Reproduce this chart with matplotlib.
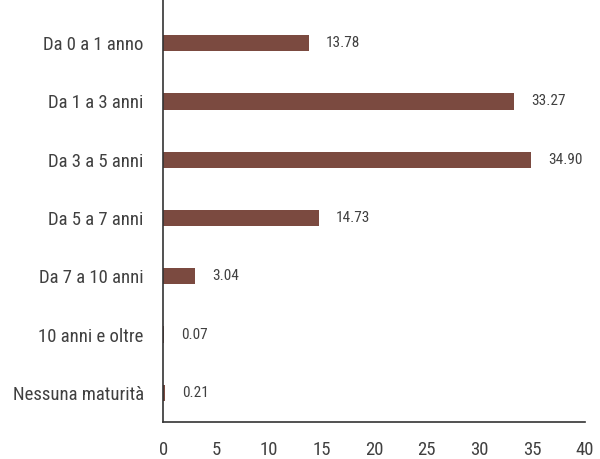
import matplotlib
matplotlib.use("Agg")
import matplotlib.pyplot as plt

categories = ["Da 0 a 1 anno", "Da 1 a 3 anni", "Da 3 a 5 anni", "Da 5 a 7 anni",
              "Da 7 a 10 anni", "10 anni e oltre", "Nessuna maturità"]
values = [13.78, 33.27, 34.90, 14.73, 3.04, 0.07, 0.21]
xticks = [0, 5, 10, 15, 20, 25, 30, 35, 40]

plt.rcParams['font.family'] = ['Roboto Condensed', 'DejaVu Sans']

fig = plt.figure(figsize=(6, 4.59), dpi=100)
ax = fig.add_axes([0.272, 0.0806, 0.703, 0.9194])
pos = list(range(len(categories)))
ax.barh(pos, values, height=0.28, color="#7B4A40")
for p, v in zip(pos, values):
    ax.text(v + 1.6, p, f"{v:.2f}", va="center", ha="left", fontsize=11, color="#404040")
ax.set_yticks(pos)
ax.set_yticklabels(categories, fontsize=13.5, color="#404040")
ax.set_xticks(xticks)
ax.set_xticklabels([str(t) for t in xticks], fontsize=13.5, color="#404040")
ax.set_xlim(0, 40)
ax.set_ylim(6.5, -0.74)
ax.tick_params(length=0, pad=14)
ax.tick_params(axis='y', pad=14)
for s in ["top", "right"]:
    ax.spines[s].set_visible(False)
for s in ["left", "bottom"]:
    ax.spines[s].set_color("#333333")
    ax.spines[s].set_linewidth(1.2)
fig.savefig("out.png", dpi=100)
